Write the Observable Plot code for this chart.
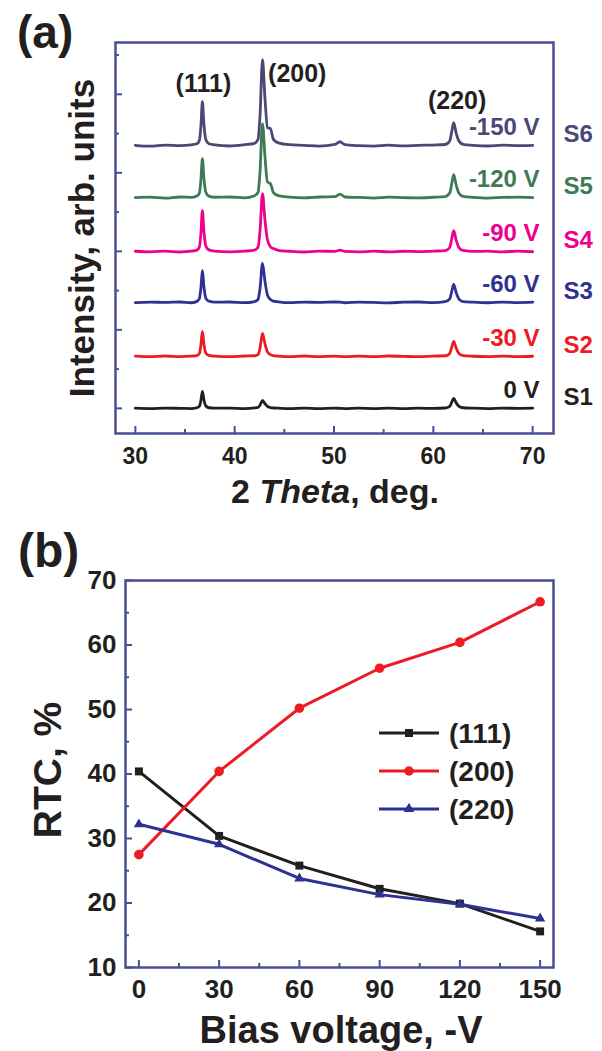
<!DOCTYPE html>
<html><head><meta charset="utf-8">
<script src="https://cdn.jsdelivr.net/npm/d3@7"></script>
<script src="https://cdn.jsdelivr.net/npm/@observablehq/plot@0.6"></script>
<style>
body{margin:0;background:#fff;}
#wrap{position:relative;width:602px;height:1051px;font-family:"Liberation Sans",Arial,sans-serif;}
#wrap > svg{position:absolute;left:0;}
</style></head><body><div id="wrap"></div>
<script>
// ---------- Panel (a): XRD patterns ----------
const twoTheta = [30, 31.5, 33, 34.5, 35.6, 36.2, 36.45, 36.6, 36.75, 36.9, 37.1, 37.4, 38, 39.5, 41,
  42.0, 42.35, 42.55, 42.8, 43.05, 43.3, 43.6, 43.9, 44.4, 45.5, 47, 48.5, 50.1, 50.6, 51.1,
  52.5, 54, 55.5, 57, 58.5, 60, 61.2, 61.65, 61.85, 62.05, 62.3, 62.6, 63.0, 64, 65.5, 67, 68.5, 70];
const sampleNames = ["S1", "S2", "S3", "S4", "S5", "S6"];
const biasLabels = ["0 V", "-30 V", "-60 V", "-90 V", "-120 V", "-150 V"];
const offsets = [0, 662, 1349, 1997, 2684, 3346];
const intS1 = [2,-3,4,0,-3,8,28,100,216,110,30,8,2,4,-2,5,12,40,102,60,25,10,5,2,-3,3,-2,4,0,-3,2,-2,4,-3,2,0,5,25,78,127,70,24,8,2,-2,3,0,2];
const intS2 = [3,-4,5,-2,4,10,38,145,318,160,40,12,3,-4,5,8,22,105,293,160,58,22,10,4,-3,5,-2,4,0,-4,3,-3,5,0,-4,4,8,38,115,191,105,34,10,2,-3,4,-2,2];
const intS3 = [-3,5,0,6,-4,14,50,185,407,205,52,16,4,6,-3,12,38,175,496,270,95,38,18,8,-3,5,0,6,3,-4,5,0,-5,4,6,-2,10,45,138,229,125,40,12,3,-4,5,-2,3];
const intS4 = [4,-3,6,-5,5,18,62,235,522,260,68,22,6,-4,5,18,55,260,738,400,150,60,38,15,4,-5,6,3,18,2,-4,5,-3,4,0,6,12,52,160,267,145,48,14,2,5,-4,6,-2];
const intS5 = [0,6,-5,8,4,22,60,225,496,250,65,20,5,8,-3,25,65,330,941,520,200,178,65,25,6,-4,8,12,45,8,3,-5,6,0,-4,5,14,58,175,293,160,52,15,4,-5,3,6,0];
const intS6 = [5,-6,8,0,10,25,70,250,560,280,75,25,10,-4,12,30,80,380,1094,600,230,216,80,35,12,5,-5,15,50,12,0,-5,6,-3,4,8,15,60,175,293,160,55,18,5,-4,6,0,4];
const intensities = [intS1, intS2, intS3, intS4, intS5, intS6];
const peakNames = ["(111)", "(200)", "(220)"];
const xTicksA = [30, 40, 50, 60, 70];

// ---------- Panel (b): RTC ----------
const biasVoltage = [0, 30, 60, 90, 120, 150];
const rtc111 = [40.4, 30.4, 25.8, 22.2, 19.9, 15.6];
const rtc200 = [27.5, 40.4, 50.2, 56.4, 60.4, 66.7];
const rtc220 = [32.2, 29.1, 23.8, 21.3, 19.8, 17.6];
const rtcNames = ["(111)", "(200)", "(220)"];
const xTicksB = [0, 30, 60, 90, 120, 150];
const yTicksB = [10, 20, 30, 40, 50, 60, 70];

const FONT = '"Liberation Sans", Arial, sans-serif';
const FRAME = "#4a4e94";
const INK = "#231f20";
const colorsA = ["#231f20", "#ed1c24", "#2e3192", "#ec008c", "#3f7a56", "#4b4878"];
const colorsB = ["#231f20", "#ed1c24", "#2e3192"];
const symbolsB = ["square", "circle", "triangle"];
const radiiB = [4.5, 4.8, 3.8];

const wrap = document.getElementById("wrap");

// Panel (a)
const topPlot = Plot.plot({
  width: 602, height: 520,
  marginLeft: 115, marginRight: 49, marginTop: 42, marginBottom: 87,
  x: {domain: [28, 72.1]},
  y: {domain: [-320, 4660]},
  color: {type: "identity"},
  style: {fontFamily: FONT, fontSize: "23px", fontWeight: "bold", color: INK, overflow: "visible", background: "transparent"},
  marks: [
    ...intensities.map((vals, s) => Plot.line(twoTheta, {
      x: d => d, y: (d, i) => offsets[s] + vals[i],
      stroke: colorsA[s], strokeWidth: 2.8, curve: "monotone-x"
    })),
    Plot.frame({stroke: FRAME, strokeWidth: 2.5}),
    Plot.axisX({ticks: xTicksA, tickSize: -7, stroke: FRAME, strokeWidth: 2, tickFormat: () => "", label: null}),
    Plot.axisX({ticks: [35, 45, 55, 65], tickSize: -4, stroke: FRAME, strokeWidth: 2, tickFormat: () => "", label: null}),
    Plot.axisX({ticks: xTicksA, tickSize: 0, tickPadding: 14, fill: INK, label: null}),
    Plot.axisY({ticks: [0, 1000, 2000, 3000, 4000], tickSize: -7, stroke: FRAME, strokeWidth: 2, tickFormat: () => "", label: null}),
    Plot.axisY({ticks: [500, 1500, 2500, 3500, 4500], tickSize: -4, stroke: FRAME, strokeWidth: 2, tickFormat: () => "", label: null}),
    Plot.text(peakNames, {
      x: [36.85, 46.3, 62.4], y: [4134, 4261, 3918], text: d => d,
      fill: INK, fontSize: 25, fontWeight: "bold"
    }),
    Plot.text(sampleNames, {
      x: 70.7, y: (d, i) => offsets[i] + 230, text: (d, i) => biasLabels[i],
      fill: (d, i) => colorsA[i], textAnchor: "end", fontSize: 24, fontWeight: "bold"
    }),
    Plot.text(sampleNames, {
      x: 73.1, y: (d, i) => offsets[i] + 140, text: d => d,
      fill: (d, i) => colorsA[i], textAnchor: "start", fontSize: 24, fontWeight: "bold", clip: false
    })
  ]
});
topPlot.style.top = "0px";
wrap.appendChild(topPlot);

// Panel (b)
const rtcSeries = [rtc111, rtc200, rtc220];
const botPlot = Plot.plot({
  width: 602, height: 531,
  marginLeft: 125, marginRight: 49, marginTop: 60, marginBottom: 84,
  x: {domain: [-5, 155]},
  y: {domain: [10, 70]},
  style: {fontFamily: FONT, fontSize: "26px", fontWeight: "bold", color: INK, overflow: "visible", background: "transparent"},
  marks: [
    ...rtcSeries.map((vals, s) => Plot.line(biasVoltage, {
      x: d => d, y: (d, i) => vals[i], stroke: colorsB[s], strokeWidth: 3
    })),
    ...rtcSeries.map((vals, s) => Plot.dot(biasVoltage, {
      x: d => d, y: (d, i) => vals[i], fill: colorsB[s], stroke: "none",
      symbol: symbolsB[s], r: radiiB[s]
    })),
    Plot.frame({stroke: FRAME, strokeWidth: 2.5}),
    Plot.axisX({ticks: xTicksB, tickSize: -7, stroke: FRAME, strokeWidth: 2, tickFormat: () => "", label: null}),
    Plot.axisX({ticks: [15, 45, 75, 105, 135], tickSize: -4, stroke: FRAME, strokeWidth: 2, tickFormat: () => "", label: null}),
    Plot.axisX({ticks: xTicksB, tickSize: 0, tickPadding: 12, fill: INK, label: null}),
    Plot.axisY({ticks: yTicksB, tickSize: -7, stroke: FRAME, strokeWidth: 2, tickFormat: () => "", label: null}),
    Plot.axisY({ticks: [15, 25, 35, 45, 55, 65], tickSize: -4, stroke: FRAME, strokeWidth: 2, tickFormat: () => "", label: null}),
    Plot.axisY({ticks: yTicksB, tickSize: 0, tickPadding: 9, fill: INK, label: null})
  ]
});
botPlot.style.top = "520px";
wrap.appendChild(botPlot);

// Overlay: titles, panel letters, legend
const ov = d3.create("svg").attr("width", 602).attr("height", 1051)
  .style("top", "0px").style("pointer-events", "none")
  .style("font-family", FONT).style("font-weight", "bold").style("fill", INK);
ov.append("text").attr("x", 17).attr("y", 48).style("font-size", "46px").text("(a)");
ov.append("text").attr("x", 18).attr("y", 567).style("font-size", "48px").text("(b)");
ov.append("text").attr("transform", "translate(94,238) rotate(-90)").attr("text-anchor", "middle")
  .style("font-size", "35px").text("Intensity, arb. units");
const xt = ov.append("text").attr("x", 335).attr("y", 503).attr("text-anchor", "middle").style("font-size", "34px");
xt.append("tspan").text("2 ");
xt.append("tspan").style("font-style", "italic").text("Theta");
xt.append("tspan").text(", deg.");
ov.append("text").attr("transform", "translate(61,770) rotate(-90)").attr("text-anchor", "middle")
  .style("font-size", "39px").text("RTC, %");
ov.append("text").attr("x", 341).attr("y", 1043).attr("text-anchor", "middle")
  .style("font-size", "38px").text("Bias voltage, -V");

const legendRows = [733, 771, 809];
const d3sym = [d3.symbolSquare, d3.symbolCircle, d3.symbolTriangle];
const symSize = [64, 70, 50];
rtcNames.forEach((name, i) => {
  const g = ov.append("g").attr("transform", `translate(0,${legendRows[i]})`);
  g.append("line").attr("x1", 379).attr("x2", 439).attr("y1", 0).attr("y2", 0)
    .attr("stroke", colorsB[i]).attr("stroke-width", 3.2);
  g.append("path").attr("d", d3.symbol(d3sym[i], symSize[i])()).attr("transform", "translate(409,0)")
    .attr("fill", colorsB[i]);
  g.append("text").attr("x", 449).attr("y", 10).style("font-size", "28px").style("font-weight", "bold")
    .text(name);
});
wrap.appendChild(ov.node());
</script></body></html>
